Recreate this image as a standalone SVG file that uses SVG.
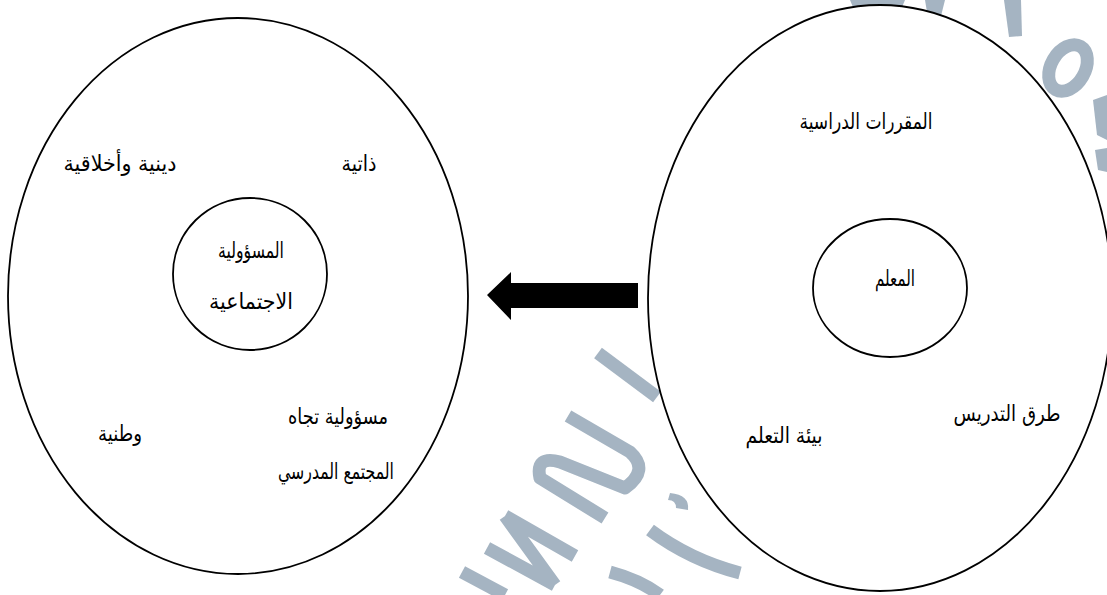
<svg xmlns="http://www.w3.org/2000/svg" width="1107" height="595" viewBox="0 0 1107 595">
  <style>
    .wm { fill: none; stroke: #a5b4c2; stroke-width: 13; stroke-linecap: butt; stroke-linejoin: round; }
    .wmf { fill: #a5b4c2; stroke: none; }
    .outer { fill: #ffffff; stroke: #000000; stroke-width: 1.8; }
    .inner { fill: #ffffff; stroke: #000000; stroke-width: 1.8; }
    .t { font-family: "DejaVu Sans", "Noto Sans", sans-serif; font-size: 22px; fill: #000000; text-anchor: middle; direction: rtl; }
  </style>
  <rect x="0" y="0" width="1107" height="595" fill="#ffffff"/>
  <g id="watermark">
    <path class="wm" d="M 598,353 L 657,397"/>
    <path class="wm" d="M 568,416 L 630,452 Q 650,470 625,488 L 560,462 Q 535,455 540,478 L 605,518"/>
    <path class="wm" d="M 487,548 L 555,585 M 505,516 L 575,556 M 505,516 L 555,585"/>
    <path class="wm" d="M 462,572 L 505,595"/>
    <path class="wm" d="M 650,530 Q 690,560 740,573"/>
    <path class="wm" d="M 610,572 Q 640,580 660,595"/>
    <path class="wmf" d="M 670,493 Q 690,495 688,510 L 676,508 Q 676,500 668,500 Z"/>
    <path class="wmf" d="M 850,0 L 905,0 L 900,12 L 855,12 Z"/>
    <path class="wmf" d="M 925,0 L 945,0 L 940,20 L 928,18 Z"/>
    <path class="wmf" d="M 1004,0 L 1021,0 L 1022,36 L 1009,37 Z"/>
    <ellipse class="wm" cx="1068" cy="68" rx="17" ry="25" transform="rotate(30 1068 68)"/>
    <path class="wmf" d="M 1093,100 L 1107,95 L 1107,140 L 1097,135 Z"/>
    <path class="wmf" d="M 1095,150 L 1107,148 L 1107,172 L 1098,170 Z"/>
  </g>
  <g id="left-group">
    <g id="node-left-outer">
      <ellipse class="outer" cx="238" cy="296" rx="230" ry="278"/>
    </g>
    <g id="node-left-inner">
      <ellipse class="inner" cx="250" cy="274" rx="77" ry="76"/>
      <text class="t" x="251" y="258" textLength="66" lengthAdjust="spacingAndGlyphs">المسؤولية</text>
      <text class="t" x="251" y="309" textLength="84" lengthAdjust="spacingAndGlyphs">الاجتماعية</text>
    </g>
    <g id="node-dhatiya"><text class="t" x="359" y="171" textLength="35" lengthAdjust="spacingAndGlyphs">ذاتية</text></g>
    <g id="node-diniya"><text class="t" x="120" y="171" textLength="113" lengthAdjust="spacingAndGlyphs">دينية وأخلاقية</text></g>
    <g id="node-wataniya"><text class="t" x="120" y="441" textLength="44" lengthAdjust="spacingAndGlyphs">وطنية</text></g>
    <g id="node-school">
      <text class="t" x="338" y="424" textLength="100" lengthAdjust="spacingAndGlyphs">مسؤولية تجاه</text>
      <text class="t" x="336" y="479" textLength="116" lengthAdjust="spacingAndGlyphs">المجتمع المدرسي</text>
    </g>
  </g>
  <g id="right-group">
    <g id="node-right-outer">
      <ellipse class="outer" cx="880" cy="298" rx="232" ry="293"/>
    </g>
    <g id="node-right-inner">
      <ellipse class="inner" cx="890" cy="288" rx="77" ry="69"/>
      <text class="t" x="895" y="286" textLength="40" lengthAdjust="spacingAndGlyphs">المعلم</text>
    </g>
    <g id="node-courses"><text class="t" x="866" y="129" textLength="133" lengthAdjust="spacingAndGlyphs">المقررات الدراسية</text></g>
    <g id="node-methods"><text class="t" x="1007" y="421" textLength="107" lengthAdjust="spacingAndGlyphs">طرق التدريس</text></g>
    <g id="node-env"><text class="t" x="784" y="443" textLength="77" lengthAdjust="spacingAndGlyphs">بيئة التعلم</text></g>
  </g>
  <g id="connectors">
    <path d="M 638,283 L 511,283 L 511,272 L 487,295 L 511,320 L 511,308 L 638,308 Z" fill="#000000"/>
  </g>
</svg>
